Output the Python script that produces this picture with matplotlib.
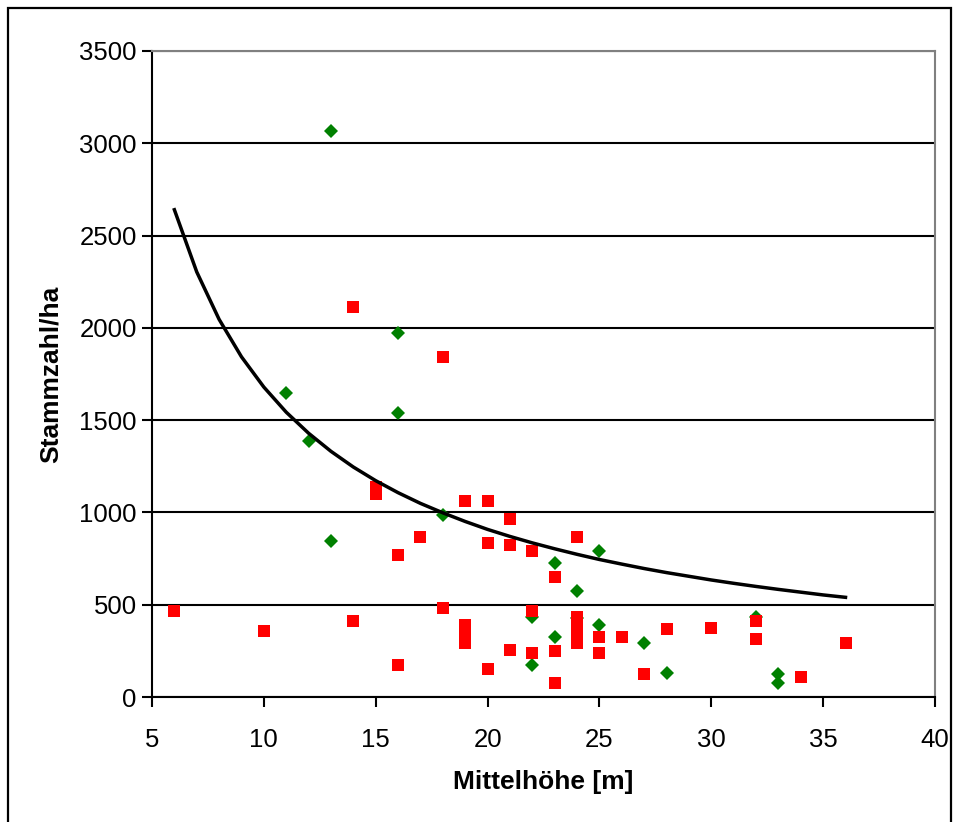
import matplotlib.pyplot as plt
from matplotlib.patches import Rectangle

plt.rcParams['font.family'] = ['Liberation Sans', 'DejaVu Sans']

# red squares
red_x = [6, 10, 14, 14, 15, 15, 16, 16, 17, 18, 18, 19, 19, 19, 19, 19,
         20, 20, 20, 21, 21, 21, 22, 22, 22, 23, 23, 23,
         24, 24, 24, 24, 24, 24, 25, 25, 26, 27, 28, 30, 32, 32, 34, 36]
red_y = [468, 360, 2115, 412, 1140, 1100, 772, 176, 868, 1842, 480, 1062, 390, 360, 325, 295,
         1062, 835, 150, 965, 823, 253, 789, 468, 241, 650, 250, 77,
         866, 435, 400, 350, 320, 295, 326, 238, 326, 122, 369, 372, 412, 315, 108, 292]

# green diamonds
green_x = [13, 16, 11, 16, 12, 13, 18, 25, 23, 24, 22, 24, 25, 23, 27, 22, 28, 32, 33, 33]
green_y = [3066, 1970, 1646, 1538, 1385, 846, 985, 792, 727, 573, 431, 426, 389, 326, 292, 176, 130, 434, 122, 77]

# trend curve
trend_x = list(range(6, 37))
trend_y = [2640, 2303, 2046, 1843, 1679, 1543, 1429, 1331, 1246, 1172, 1107, 1049, 998,
           951, 908, 870, 835, 803, 773, 745, 720, 696, 674, 654, 634, 616, 599, 583,
           568, 553, 540]

fig = plt.figure(figsize=(9.58, 8.22), dpi=100)
ax = fig.add_axes([152/958, 125/822, (935-152)/958, (697-51)/822])

ax.plot(green_x, green_y, 'D', color='#008000', markersize=7, markeredgewidth=0, zorder=3)
ax.plot(red_x, red_y, 's', color='#FF0000', markersize=8.6, markeredgewidth=0, zorder=4)
ax.plot(trend_x, trend_y, '-', color='black', linewidth=2.5, zorder=5)

ax.set_xlim(5, 40)
ax.set_ylim(0, 3500)
ax.set_xticks(range(5, 41, 5))
ax.set_yticks(range(0, 3501, 500))
ax.yaxis.grid(True, color='black', linewidth=1.5)
ax.set_axisbelow(True)

for s in ['top', 'right']:
    ax.spines[s].set_color('#808080')
    ax.spines[s].set_linewidth(1.5)
for s in ['left', 'bottom']:
    ax.spines[s].set_color('black')
    ax.spines[s].set_linewidth(1.5)

ax.tick_params(direction='out', length=7, width=1.5, labelsize=18.5)
ax.tick_params(axis='x', pad=15)
ax.tick_params(axis='y', pad=4)
ax.set_xlabel('Mittelhöhe [m]', fontsize=19, fontweight='bold', labelpad=13)
ax.set_ylabel('Stammzahl/ha', fontsize=19, fontweight='bold', labelpad=12)

fig.patches.append(Rectangle((8/958, -0.05), (951-8)/958, (814)/822 + 0.05,
                             transform=fig.transFigure, fill=False,
                             edgecolor='black', linewidth=1.6))

fig.savefig('out.png', dpi=100)
